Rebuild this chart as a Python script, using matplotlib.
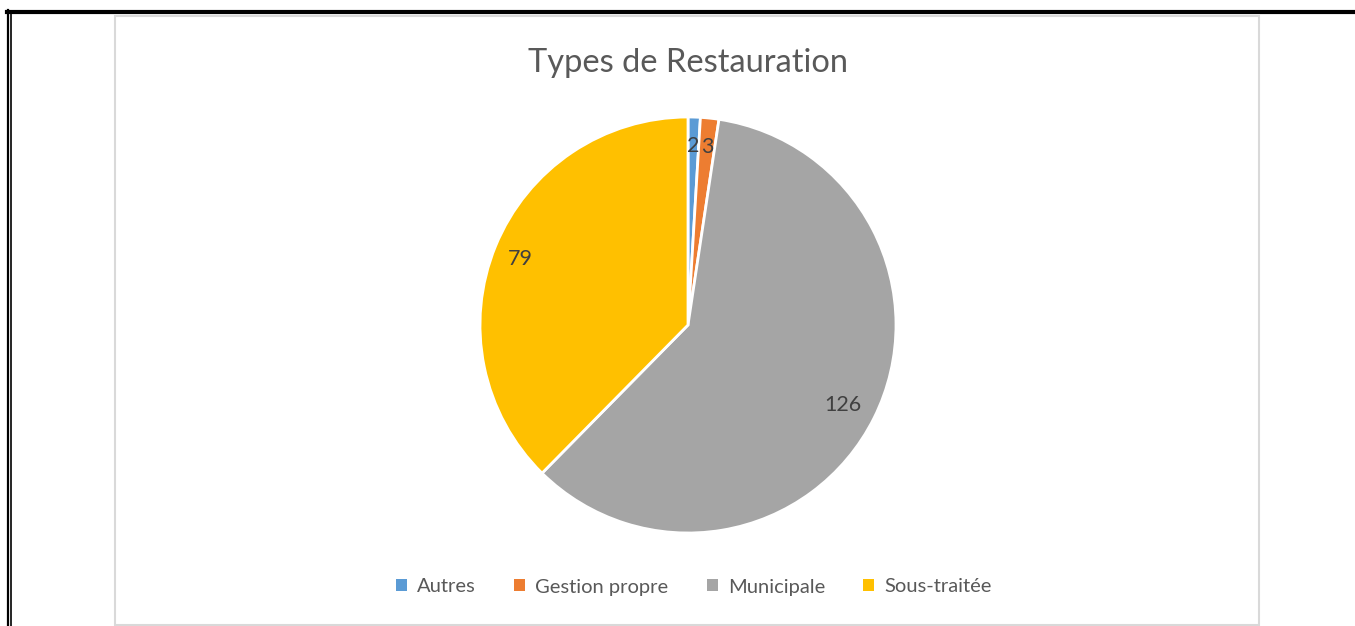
import numpy as np
import matplotlib
matplotlib.use("Agg")
import matplotlib.pyplot as plt
from matplotlib.lines import Line2D
from matplotlib.patches import Rectangle

categories = ["Autres", "Gestion propre", "Municipale", "Sous-traitée"]
values = [2, 3, 126, 79]
colors = ["#5B9BD5", "#ED7D31", "#A5A5A5", "#FFC000"]
title = "Types de Restauration"
label_dist = [0.875, 0.875, 0.83, 0.87]

W, H = 1355, 626
fig = plt.figure(figsize=(W / 100, H / 100), dpi=100)
plt.rcParams['font.family'] = ['Lato', 'DejaVu Sans']

def px(x, y):
    return x / W, 1 - y / H

# frame borders
fig.add_artist(Rectangle(px(115, 625), (1259 - 115) / W, (625 - 16) / H,
                         transform=fig.transFigure, fill=False,
                         edgecolor="#D9D9D9", linewidth=1.5))
fig.add_artist(Line2D([7 / W, 1354 / W], [1 - 12 / H, 1 - 12 / H],
                      transform=fig.transFigure, color="black", linewidth=3))
fig.add_artist(Line2D([8 / W, 8 / W], [1 - 10 / H, 0],
                      transform=fig.transFigure, color="black", linewidth=1.6))
fig.add_artist(Line2D([11 / W, 11 / W], [1 - 14 / H, 0],
                      transform=fig.transFigure, color="black", linewidth=1.2))

cx, cy, r = 688, 325, 208
ax = fig.add_axes([(cx - r) / W, (H - cy - r) / H, 2 * r / W, 2 * r / H])
wedges, _ = ax.pie(values, colors=colors, startangle=90, counterclock=False,
                   radius=1, wedgeprops=dict(edgecolor="white", linewidth=2))
ax.set_xlim(-1, 1)
ax.set_ylim(-1, 1)
ax.set_aspect("equal")
ax.axis("off")

total = sum(values)
cum = 0
for v, d in zip(values, label_dist):
    mid = (cum + v / 2) / total * 2 * np.pi
    cum += v
    ax.text(d * np.sin(mid), d * np.cos(mid) - 0.015, str(v), ha="center", va="center",
            fontsize=15.5, color="#404040")

fig.text(688 / W, 1 - 63 / H, title, ha="center", va="center",
         fontsize=23.5, color="#595959")

handles = [Rectangle((0, 0), 1, 1, facecolor=c, edgecolor="none") for c in colors]
fig.legend(handles, categories, loc="center", bbox_to_anchor=px(694, 587),
           ncol=4, frameon=False, fontsize=14.5, handlelength=0.55,
           handleheight=0.55, handletextpad=0.5, columnspacing=1.9,
           labelcolor="#595959")

fig.savefig("out.png", dpi=100, facecolor="white")
